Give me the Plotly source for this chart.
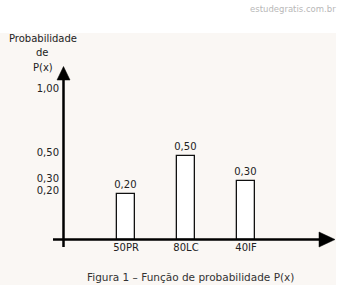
import plotly.graph_objects as go

# ---- data ----
categories = ["50PR", "80LC", "40IF"]
values = [0.20, 0.50, 0.30]
ytick_vals = [0.20, 0.30, 0.50, 1.00]
ytick_text = ["0,20", "0,30", "0,50", "1,00"]
bar_text = [f"{v:.2f}".replace(".", ",") for v in values]

# ---- layout geometry (pixels) ----
W, H = 344, 291
L, R, T, B = 63, 9, 60, 51
PW, PH = W - L - R, H - T - B
Y_MIN, Y_MAX = -0.16, 1.246
X_MIN, X_MAX = -1.05, 3.483

def px_x(px):
    return (px - L) / PW

def px_y(py):
    return (T + PH - py) / PH

FONT = "DejaVu Sans"

fig = go.Figure()
fig.add_trace(go.Bar(
    x=categories,
    y=[v - Y_MIN for v in values],
    base=Y_MIN,
    width=0.3,
    marker=dict(color="white", line=dict(color="#111111", width=1.3)),
    text=bar_text,
    textposition="outside",
    constraintext="none",
    textfont=dict(family=FONT, size=10, color="#222222"),
    cliponaxis=False,
    hoverinfo="skip",
))

shapes = [
    # tinted background panel
    dict(type="rect", xref="paper", yref="paper", layer="below",
         x0=px_x(0), x1=px_x(336), y0=px_y(285), y1=px_y(33),
         fillcolor="#faf7f4", line=dict(width=0)),
    # y axis line
    dict(type="line", xref="paper", yref="paper",
         x0=px_x(63.5), x1=px_x(63.5), y0=px_y(247), y1=px_y(79),
         line=dict(color="black", width=2.5)),
    # x axis line
    dict(type="line", xref="paper", yref="paper",
         x0=px_x(53), x1=px_x(321), y0=px_y(239.5), y1=px_y(239.5),
         line=dict(color="black", width=2.5)),
    # y arrow head
    dict(type="path", xref="paper", yref="paper",
         xsizemode="pixel", ysizemode="pixel",
         xanchor=px_x(63.5), yanchor=px_y(80),
         path="M-6.5,0 L6.5,0 L0,13.5 Z",
         fillcolor="black", line=dict(color="black", width=0.5)),
    # x arrow head
    dict(type="path", xref="paper", yref="paper",
         xsizemode="pixel", ysizemode="pixel",
         xanchor=px_x(319), yanchor=px_y(239.5),
         path="M0,-7.5 L0,7.5 L16,0 Z",
         fillcolor="black", line=dict(color="black", width=0.5)),
]

def ann(text, cx, cy, size=10, color="#222222"):
    return dict(text=text, xref="paper", yref="paper", x=px_x(cx), y=px_y(cy),
                xanchor="center", yanchor="middle", showarrow=False,
                font=dict(family=FONT, size=size, color=color))

annotations = [
    ann("Probabilidade", 42.5, 38),
    ann("de", 42, 53),
    ann("P(x)", 43, 67),
    ann("Figura 1 – Função de probabilidade P(x)", 190, 277, size=10.5, color="#333333"),
    ann("estudegratis.com.br", 293, 9, size=8.5, color="#b8b8b8"),
]

fig.update_layout(
    width=W, height=H,
    margin=dict(l=L, r=R, t=T, b=B, pad=0),
    paper_bgcolor="white",
    plot_bgcolor="rgba(0,0,0,0)",
    showlegend=False,
    shapes=shapes,
    annotations=annotations,
    bargap=0,
    xaxis=dict(type="category", range=[X_MIN, X_MAX], showgrid=False,
               zeroline=False, showline=False, ticks="",
               tickfont=dict(family=FONT, size=10, color="#222222"),
               fixedrange=True),
    yaxis=dict(range=[Y_MIN, Y_MAX], tickvals=ytick_vals, ticktext=ytick_text,
               showgrid=False, zeroline=False, showline=False, ticks="",
               ticklabelstandoff=3, ticklabelshift=-3,
               tickfont=dict(family=FONT, size=10, color="#222222"),
               fixedrange=True),
)

fig.write_html("out.html", config={"displayModeBar": False})
